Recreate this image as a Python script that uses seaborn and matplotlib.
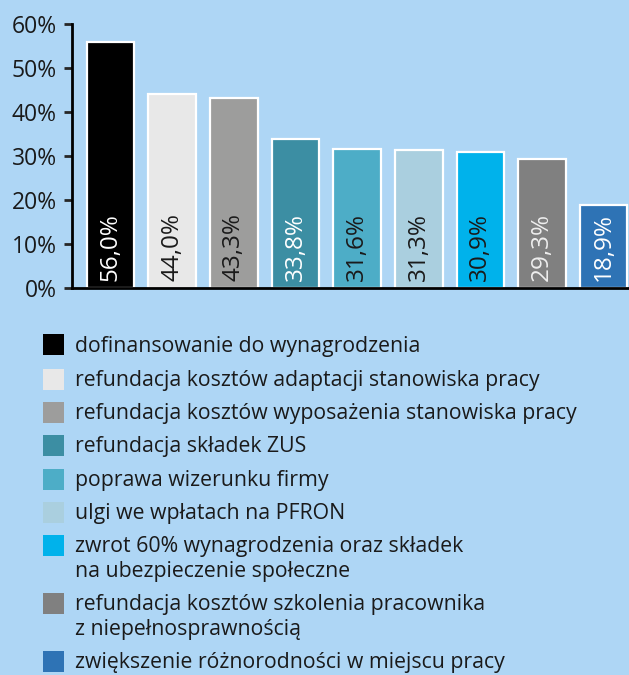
import matplotlib
matplotlib.use('Agg')
import matplotlib.pyplot as plt
import pandas as pd
import seaborn as sns
from matplotlib.patches import Rectangle

# Data
categories = [
    'dofinansowanie do wynagrodzenia',
    'refundacja kosztów adaptacji stanowiska pracy',
    'refundacja kosztów wyposażenia stanowiska pracy',
    'refundacja składek ZUS',
    'poprawa wizerunku firmy',
    'ulgi we wpłatach na PFRON',
    'zwrot 60% wynagrodzenia oraz składek\nna ubezpieczenie społeczne',
    'refundacja kosztów szkolenia pracownika\nz niepełnosprawnością',
    'zwiększenie różnorodności w miejscu pracy',
]
values = [56.0, 44.0, 43.3, 33.8, 31.6, 31.3, 30.9, 29.3, 18.9]
value_labels = ['56,0%', '44,0%', '43,3%', '33,8%', '31,6%', '31,3%', '30,9%', '29,3%', '18,9%']
colors = ['#000000', '#E8E8E8', '#9D9D9C', '#3C8EA3', '#4DADC7',
          '#AACFDF', '#00B2EB', '#808080', '#2E73B5']
label_colors = ['white', '#1a1a1a', '#1a1a1a', 'white', '#1a1a1a',
                '#1a1a1a', '#1a1a1a', '#eeeeee', 'white']
yticks = [0, 10, 20, 30, 40, 50, 60]

bg = '#AED6F5'

sns.set_style('white')
plt.rcParams['font.family'] = ['Open Sans', 'DejaVu Sans']

df = pd.DataFrame({'cat': categories, 'value': values})

fig = plt.figure(figsize=(6.29, 6.75), dpi=100)
fig.patch.set_facecolor(bg)
ax = fig.add_axes([0.1145, 0.5733, 0.8855, 0.3911])
ax.set_facecolor(bg)

sns.barplot(data=df, x='cat', y='value', hue='cat', palette=colors, legend=False,
            width=0.77, edgecolor='white', linewidth=1.6, saturation=1, ax=ax)

for i, (lab, c) in enumerate(zip(value_labels, label_colors)):
    ax.text(i, 1.7, lab, rotation=90, ha='center', va='bottom', fontsize=17.5, color=c)

ax.set_xlim(-0.625, 8.41)
ax.set_ylim(0, 60)
ax.set_yticks(yticks)
ax.set_yticklabels([f'{t}%' for t in yticks], fontsize=16.5, color='#1a1a1a')
ax.set_xticks([])
ax.set_xlabel('')
ax.set_ylabel('')
ax.tick_params(axis='y', left=True, length=6, width=2, pad=5)
for s in ['top', 'right']:
    ax.spines[s].set_visible(False)
for s in ['left', 'bottom']:
    ax.spines[s].set_color('black')
    ax.spines[s].set_linewidth(2)

# Legend (manual, handle aligned with first text line)
row_y = [345, 379, 412, 445, 479, 512, 545, 603, 661]
W, H = 629, 675
sq = 21
for y, c, lab in zip(row_y, colors, categories):
    fig.patches.append(Rectangle((43 / W, 1 - (y + sq / 2) / H), sq / W, sq / H,
                                 transform=fig.transFigure, facecolor=c,
                                 edgecolor='none'))
    for k, line in enumerate(lab.split('\n')):
        fig.text(75 / W, 1 - (y + 7 + 24.5 * k) / H, line, ha='left', va='baseline',
                 fontsize=15.3, color='#1a1a1a')

fig.savefig('out.png', dpi=100, facecolor=bg)
